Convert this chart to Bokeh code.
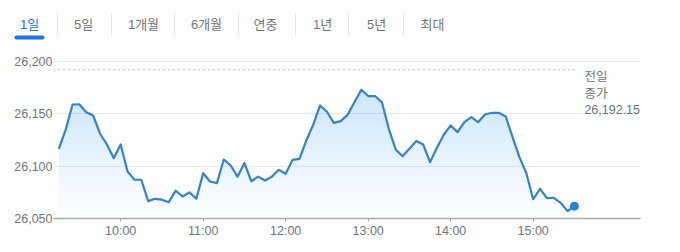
import numpy as np
from bokeh.plotting import figure
from bokeh.models import Range1d, FixedTicker, NumeralTickFormatter
from bokeh.core.properties import value
from bokeh.embed import file_html
from bokeh.resources import INLINE

# ---------------- data ----------------
tabs = ["1일", "5일", "1개월", "6개월", "연중", "1년", "5년", "최대"]
selected_tab = "1일"

# minutes after 09:00, one reading every 5 minutes (09:15 .. 15:30)
minutes = list(range(15, 391, 5))
prices = [
    26116.6, 26134.7, 26158.9, 26159.0, 26151.6, 26148.4, 26131.0, 26120.7, 26107.6, 26120.7,
    26095.0, 26087.0, 26087.0, 26066.6, 26068.8, 26068.0, 26065.6, 26076.5, 26071.0, 26075.0,
    26068.8, 26093.3, 26085.4, 26083.8, 26106.4, 26100.6, 26090.0, 26103.0, 26085.6, 26090.0,
    26086.3, 26090.0, 26096.5, 26092.7, 26106.0, 26107.0, 26124.5, 26139.5, 26158.0, 26152.0,
    26141.4, 26143.0, 26149.0, 26161.0, 26173.0, 26167.0, 26167.0, 26161.0, 26135.7, 26116.0,
    26109.5, 26116.6, 26124.0, 26120.7, 26103.8, 26117.5, 26130.0, 26138.9, 26132.5, 26142.0,
    26146.8, 26142.0, 26149.4, 26151.0, 26151.0, 26147.5, 26127.7, 26108.6, 26093.5, 26068.4,
    26078.4, 26069.4, 26069.8, 26065.0, 26057.0, 26061.8,
]
prev_close = 26192.15
prev_close_label = ["전일", "종가", "26,192.15"]

y_ticks = [26050, 26100, 26150, 26200]
x_tick_pos = [60, 120, 180, 240, 300, 360]
x_tick_labels = ["10:00", "11:00", "12:00", "13:00", "14:00", "15:00"]

FONT = "Liberation Sans, Noto Sans CJK KR"
GRAY = "#70757a"
BLUE = "#1a73e8"
LINE = "#3483cd"

# ---------------- tab bar ----------------
tb = figure(width=680, height=45, x_range=Range1d(0, 680), y_range=Range1d(45, 0),
            output_backend="svg", toolbar_location=None,
            x_axis_location=None, y_axis_location=None, min_border=0)
tb.outline_line_color = None
tb.grid.visible = False
centers = [29, 83, 143, 206, 265, 322, 376, 432]
seps = [57, 111, 174, 238, 295, 348, 403]
colors = [BLUE if t == selected_tab else GRAY for t in tabs]
tb.text(x=centers, y=[24] * len(tabs), text=tabs, text_color=colors,
        text_font=value(FONT), text_font_size="13px",
        text_align="center", text_baseline="middle")
tb.segment(x0=seps, y0=[13] * len(seps), x1=seps, y1=[35] * len(seps),
           line_color="#e3e4e6", line_width=1)
sel = centers[tabs.index(selected_tab)]
tb.segment(x0=[sel - 13], y0=[37], x1=[sel + 13], y1=[37],
           line_color=BLUE, line_width=4, line_cap="round")

# ---------------- chart ----------------
x0 = 11.15
x1 = x0 + 587 / 1.375
p = figure(width=680, height=207, x_range=Range1d(x0, x1),
           y_range=Range1d(26050, 26050 + 163 / 1.0467),
           output_backend="svg", toolbar_location=None,
           min_border_left=53, min_border_right=40,
           min_border_top=10, min_border_bottom=34)
p.outline_line_color = None
p.xgrid.visible = False
p.ygrid.ticker = FixedTicker(ticks=y_ticks)
p.ygrid.grid_line_color = "#ececec"

# gradient fill (stacked translucent layers)
vals = np.array(prices)
levels = np.linspace(26050, 26175, 26)
for lv in levels:
    p.varea(x=minutes, y1=np.minimum(vals, lv), y2=vals,
            fill_color=LINE, fill_alpha=0.0095)

# previous close dotted line
p.segment(x0=[x0], y0=[prev_close], x1=[minutes[-1] + 2.5], y1=[prev_close],
          line_color="#80868b", line_width=1, line_dash="1 4")

p.line(minutes, prices, line_color=LINE, line_width=2.2, line_join="round")
p.scatter([minutes[-1]], [prices[-1]], size=9, fill_color="#2a7fd6", line_color=None)

p.text(x=[minutes[-1]] * 3, y=[prev_close] * 3, text=prev_close_label,
       x_offset=10, y_offset=[7, 24, 40], text_color=GRAY,
       text_font=value(FONT), text_font_size="12.5px",
       text_align="left", text_baseline="middle")

# axes
xa = p.xaxis[0]
xa.ticker = FixedTicker(ticks=x_tick_pos)
xa.major_label_overrides = {t: l for t, l in zip(x_tick_pos, x_tick_labels)}
xa.axis_line_color = "#a8a8a8"
xa.axis_line_width = 1.5
xa.major_tick_line_color = "#a8a8a8"
xa.major_tick_out = 3
xa.major_tick_in = 0
xa.minor_tick_line_color = None
xa.major_label_standoff = 2
xa.major_label_text_color = GRAY
xa.major_label_text_font = FONT
xa.major_label_text_font_size = "12.5px"

ya = p.yaxis[0]
ya.ticker = FixedTicker(ticks=y_ticks)
ya.formatter = NumeralTickFormatter(format="0,0")
ya.axis_line_color = None
ya.major_tick_line_color = None
ya.minor_tick_line_color = None
ya.major_tick_out = 0
ya.major_tick_in = 0
ya.major_label_standoff = 1
ya.major_label_text_color = GRAY
ya.major_label_text_font = FONT
ya.major_label_text_font_size = "12.5px"

open("out.html", "w").write(file_html([tb, p], INLINE))
